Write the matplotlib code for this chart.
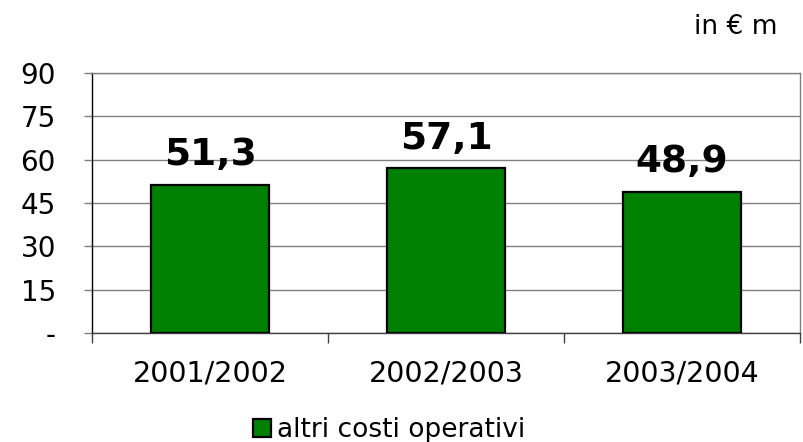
import matplotlib
matplotlib.use("Agg")
import matplotlib.pyplot as plt
import numpy as np

categories = ["2001/2002", "2002/2003", "2003/2004"]
values = [51.3, 57.1, 48.9]
value_labels = ["51,3", "57,1", "48,9"]
yticks = [0, 15, 30, 45, 60, 75, 90]
ytick_labels = ["-", "15", "30", "45", "60", "75", "90"]
series_name = "altri costi operativi"
unit_text = "in € m"

plt.rcParams['font.family'] = ['DejaVu Sans']
fig = plt.figure(figsize=(8.04, 4.42), dpi=100)
ax = fig.add_axes([92/804, 1-333/442, 708/804, 260/442])

x = np.arange(len(categories))
bars = ax.bar(x, values, width=0.5, color="#008000", edgecolor="black", linewidth=1.6, zorder=3, label=series_name)
for xi, v, lab in zip(x, values, value_labels):
    ax.annotate(lab, (xi, v), xytext=(0, 14), textcoords="offset points", ha="center", va="baseline",
                fontsize=27, fontweight="bold", color="black")

ax.set_xlim(-0.5, 2.5)
ax.set_ylim(0, 90)
ax.set_yticks(yticks)
ax.set_yticklabels(ytick_labels, fontsize=20)
ax.yaxis.grid(True, color="#808080", linewidth=1, zorder=0)
ax.tick_params(axis="y", length=6, width=1, color="#808080", pad=20)

ax.set_xticks(x)
ax.set_xticklabels(categories, fontsize=20.5)
ax.set_xticks([-0.5, 0.5, 1.5, 2.5], minor=True)
ax.tick_params(axis="x", which="major", length=0, pad=19)
ax.tick_params(axis="x", which="minor", length=7, width=1, color="#404040")

ax.spines["left"].set_color("black")
ax.spines["bottom"].set_color("#404040")
ax.spines["top"].set_color("#808080")
ax.spines["right"].set_color("#808080")
for s in ax.spines.values():
    s.set_linewidth(1)

fig.text(778/804, 1-27/442, unit_text, ha="right", va="center", fontsize=19)

leg = fig.legend(handles=[bars], labels=[series_name], loc="center", bbox_to_anchor=(389/804, 1-430/442),
                 frameon=False, fontsize=19, handlelength=0.7, handleheight=0.7, handletextpad=0.2)

fig.savefig("out.png", dpi=100)
